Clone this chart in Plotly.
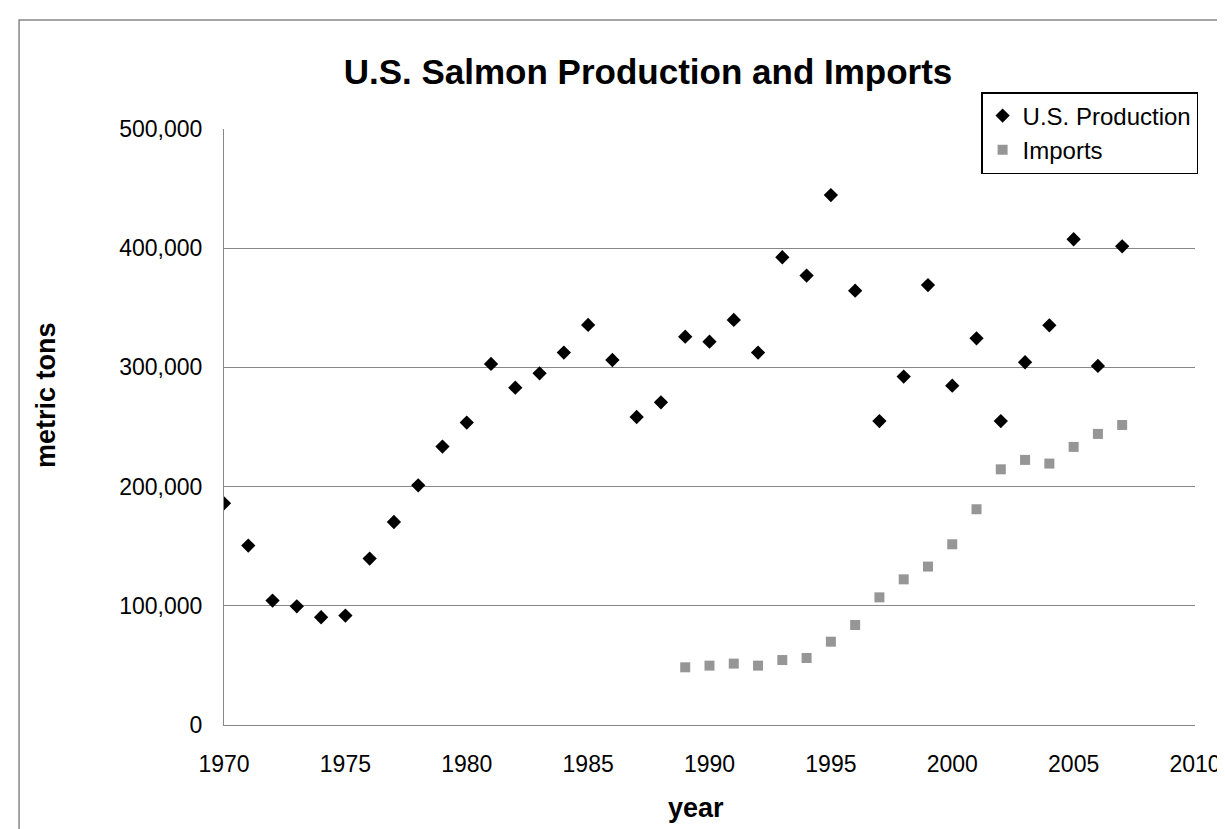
import plotly.graph_objects as go

# ---- data ----
prod_years = list(range(1970, 2008))
production = [186000, 150500, 104400, 99600, 90400, 91800, 139600, 170300, 201100, 233600,
              253700, 302900, 283000, 295000, 312400, 335600, 306200, 258400, 270700, 325800,
              321600, 339800, 312400, 392400, 377000, 444600, 364400, 255000, 292300, 369100,
              284700, 324400, 255000, 304300, 335300, 407500, 301200, 401600]
import_years = list(range(1989, 2008))
imports = [48400, 49800, 51500, 49800, 54500, 56200, 69900, 83900, 107100, 122200,
           132900, 151600, 181000, 214500, 222400, 219300, 233300, 244200, 251700]
x_ticks = [1970, 1975, 1980, 1985, 1990, 1995, 2000, 2005, 2010]
y_ticks = [0, 100000, 200000, 300000, 400000, 500000]

FONT = "Liberation Sans, Arial, Helvetica, sans-serif"
W, H = 1225, 829
ML, MR, MT, MB = 216, 33, 121, 112
PW, PH = W - ML - MR, H - MT - MB
GRID = "#878787"


def px_x(p):
    return (p - ML) / PW


def px_y(p):
    return (H - MB - p) / PH


fig = go.Figure()
fig.add_trace(go.Scatter(
    x=prod_years, y=production, mode="markers", name="U.S. Production",
    marker=dict(symbol="diamond", size=11, color="black"),
))
fig.add_trace(go.Scatter(
    x=import_years, y=imports, mode="markers", name="Imports",
    marker=dict(symbol="square", size=10, color="#969696"),
))

fig.update_layout(
    width=W, height=H,
    margin=dict(l=ML, r=MR, t=MT, b=MB),
    paper_bgcolor="white", plot_bgcolor="white",
    font=dict(family=FONT, size=23, color="black"),
    title=dict(text="U.S. Salmon Production and Imports",
               font=dict(family=FONT, size=35, color="black", weight="bold"),
               xref="container", x=640 / W, xanchor="center",
               yref="container", y=1 - 64 / H, yanchor="middle"),
    showlegend=True,
    legend=dict(x=px_x(977), y=px_y(84), xanchor="left", yanchor="top",
                bordercolor="black", borderwidth=1.5, bgcolor="white",
                font=dict(family=FONT, size=24, color="black"),
                itemwidth=30),
    xaxis=dict(range=[1970, 2010], tickvals=x_ticks, showgrid=False,
               showline=True, linecolor=GRID, linewidth=1, ticks="",
               zeroline=False, ticklabelstandoff=18,
               tickfont=dict(family=FONT, size=23, color="black")),
    yaxis=dict(range=[0, 500000], tickvals=y_ticks, tickformat=",",
               showgrid=True, gridcolor=GRID, gridwidth=1,
               showline=True, linecolor=GRID, linewidth=1, ticks="",
               zeroline=False, ticklabelstandoff=16,
               tickfont=dict(family=FONT, size=23, color="black")),
    annotations=[
        dict(text="metric tons", xref="paper", yref="paper",
             x=px_x(37), y=px_y(387), textangle=-90, showarrow=False,
             xanchor="center", yanchor="middle",
             font=dict(family=FONT, size=27, color="black", weight="bold")),
        dict(text="year", xref="paper", yref="paper",
             x=px_x(690), y=px_y(800), showarrow=False,
             xanchor="center", yanchor="middle",
             font=dict(family=FONT, size=27, color="black", weight="bold")),
    ],
    shapes=[
        dict(type="rect", xref="paper", yref="paper", layer="below",
             x0=px_x(10), x1=px_x(W + 20), y0=px_y(H + 20), y1=px_y(12),
             line=dict(color=GRID, width=1.5), fillcolor="rgba(0,0,0,0)"),
    ],
)

fig.write_html("out.html")
